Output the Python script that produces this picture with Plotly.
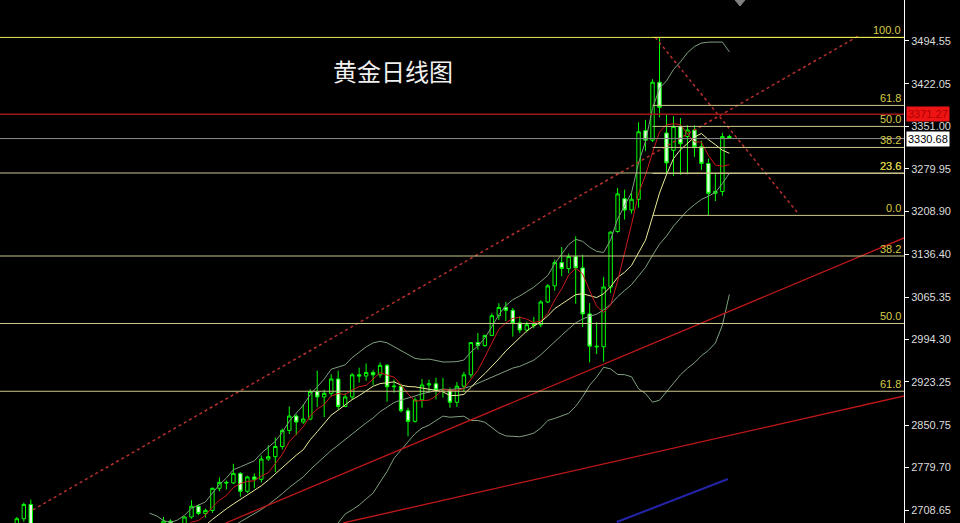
import plotly.graph_objects as go
import pandas as pd

# ---------------- data ----------------
dates = [
    "2024-12-10", "2024-12-11", "2024-12-12", "2024-12-13", "2024-12-16", "2024-12-17", "2024-12-18",
    "2024-12-19", "2024-12-20", "2024-12-23", "2024-12-24", "2024-12-26", "2024-12-27", "2024-12-30",
    "2024-12-31", "2025-01-02", "2025-01-03", "2025-01-06", "2025-01-07", "2025-01-08", "2025-01-09",
    "2025-01-10", "2025-01-13", "2025-01-14", "2025-01-15", "2025-01-16", "2025-01-17", "2025-01-20",
    "2025-01-21", "2025-01-22", "2025-01-23", "2025-01-24", "2025-01-27", "2025-01-28", "2025-01-29",
    "2025-01-30", "2025-01-31", "2025-02-03", "2025-02-04", "2025-02-05", "2025-02-06", "2025-02-07",
    "2025-02-10", "2025-02-11", "2025-02-12", "2025-02-13", "2025-02-14", "2025-02-17", "2025-02-18",
    "2025-02-19", "2025-02-20", "2025-02-21", "2025-02-24", "2025-02-25", "2025-02-26", "2025-02-27",
    "2025-02-28", "2025-03-03", "2025-03-04", "2025-03-05", "2025-03-06", "2025-03-07", "2025-03-10",
    "2025-03-11", "2025-03-12", "2025-03-13", "2025-03-14", "2025-03-17", "2025-03-18", "2025-03-19",
    "2025-03-20", "2025-03-21", "2025-03-24", "2025-03-25", "2025-03-26", "2025-03-27", "2025-03-28",
    "2025-03-31", "2025-04-01", "2025-04-02", "2025-04-03", "2025-04-04", "2025-04-07", "2025-04-08",
    "2025-04-09", "2025-04-10", "2025-04-11", "2025-04-14", "2025-04-15", "2025-04-16", "2025-04-17",
    "2025-04-21", "2025-04-22", "2025-04-23", "2025-04-24", "2025-04-25", "2025-04-28", "2025-04-29",
    "2025-04-30", "2025-05-01", "2025-05-02", "2025-05-05", "2025-05-06",
]

opens = [
    2660, 2694, 2718, 2681, 2648, 2652, 2646, 2587, 2594, 2622, 2612, 2617, 2634, 2621, 2606,
    2624, 2658, 2640, 2635, 2648, 2661, 2670, 2690, 2663, 2677, 2697, 2715, 2703, 2708, 2745,
    2755, 2754, 2770, 2740, 2764, 2760, 2794, 2798, 2815, 2842, 2866, 2856, 2861, 2907, 2898,
    2904, 2928, 2882, 2898, 2935, 2933, 2939, 2935, 2951, 2915, 2916, 2875, 2857, 2893, 2918,
    2920, 2910, 2910, 2889, 2916, 2935, 2989, 2984, 3001, 3034, 3048, 3043, 3022, 3010, 3019,
    3019, 3057, 3084, 3123, 3113, 3133, 3114, 3037, 2983, 2982, 3082, 3175, 3230, 3211, 3229,
    3344, 3328, 3425, 3340, 3311, 3351, 3334, 3345, 3317, 3289, 3239, 3242, 3334,
]
highs = [
    2697, 2721, 2726, 2686, 2664, 2655, 2664, 2633, 2632, 2630, 2622, 2639, 2637, 2624, 2627,
    2660, 2665, 2644, 2664, 2671, 2674, 2697, 2693, 2679, 2698, 2725, 2718, 2711, 2746, 2763,
    2758, 2786, 2772, 2766, 2770, 2800, 2817, 2830, 2845, 2882, 2869, 2886, 2911, 2942, 2910,
    2936, 2942, 2904, 2938, 2947, 2954, 2943, 2956, 2953, 2927, 2920, 2880, 2897, 2928, 2927,
    2930, 2930, 2914, 2923, 2940, 2990, 3005, 3002, 3038, 3055, 3057, 3047, 3033, 3024, 3032,
    3060, 3087, 3128, 3149, 3138, 3167, 3136, 3055, 3023, 3099, 3175, 3248, 3245, 3240, 3358,
    3362, 3430, 3500, 3372, 3368, 3365, 3353, 3353, 3327, 3297, 3272, 3340, 3337,
]
lows = [
    2656, 2689, 2677, 2643, 2644, 2631, 2583, 2584, 2582, 2603, 2607, 2614, 2616, 2597, 2600,
    2623, 2636, 2614, 2634, 2645, 2657, 2665, 2656, 2660, 2669, 2694, 2700, 2696, 2704, 2740,
    2743, 2752, 2731, 2737, 2745, 2755, 2791, 2772, 2810, 2836, 2834, 2853, 2859, 2881, 2864,
    2899, 2877, 2881, 2893, 2922, 2925, 2918, 2930, 2890, 2905, 2872, 2832, 2855, 2880, 2905,
    2894, 2897, 2880, 2881, 2906, 2930, 2977, 2982, 3000, 3027, 3025, 2999, 3005, 3006, 3013,
    3015, 3055, 3076, 3100, 3105, 3054, 3015, 2956, 2970, 2957, 3072, 3173, 3195, 3205, 3215,
    3310, 3325, 3366, 3270, 3268, 3270, 3271, 3300, 3278, 3202, 3226, 3235, 3330,
]
closes = [
    2694, 2718, 2681, 2648, 2652, 2646, 2587, 2594, 2622, 2612, 2617, 2634, 2621, 2606, 2624,
    2658, 2640, 2635, 2648, 2661, 2670, 2690, 2663, 2677, 2697, 2715, 2703, 2708, 2745, 2755,
    2754, 2770, 2740, 2764, 2760, 2794, 2798, 2815, 2842, 2866, 2856, 2861, 2907, 2898, 2904,
    2928, 2882, 2898, 2935, 2933, 2939, 2935, 2951, 2915, 2916, 2875, 2857, 2893, 2918, 2920,
    2910, 2910, 2889, 2916, 2935, 2989, 2984, 3001, 3034, 3048, 3043, 3022, 3010, 3019, 3018,
    3057, 3084, 3123, 3113, 3133, 3114, 3037, 2983, 2982, 3082, 3174, 3238, 3211, 3229, 3342,
    3328, 3425, 3383, 3290, 3351, 3322, 3345, 3317, 3289, 3239, 3242, 3334, 3331,
]

# right price axis (MT4 style irregular ticks)
tick_vals = [3494.55, 3422.05, 3351.00, 3279.95, 3208.90, 3136.40,
             3065.35, 2994.30, 2923.25, 2850.75, 2779.70, 2708.65]
tick_text = ["3494.55", "3422.05", "3351.00", "3279.95", "3208.90", "3136.40",
             "3065.35", "2994.30", "2923.25", "2850.75", "2779.70", "2708.65"]

# Fibonacci sets (the long set's 0.0 level coincides with the short set's 100.0)
fib_long_labels = ["", "23.6", "38.2", "50.0", "61.8"]
fib_long_prices = [3500.05, 3273.0, 3134.0, 3021.0, 2907.5]
fib_short_labels = ["100.0", "61.8", "50.0", "38.2", "23.6", "0.0"]
fib_short_prices = [3500.05, 3386.2, 3351.0, 3315.8, 3272.3, 3202.0]
fib_short_start = 91  # bar index where the short retracement begins

# horizontal price lines
resistance_price = 3371.27
bid_price = 3330.68

# trend lines: (bar index, price) end points
channel_top_i = [2.3, 120.7]
channel_top_p = [2709, 3504]
down_line_i = [91.4, 111.8]
down_line_p = [3500, 3206]
support1_i = [29.9, 127.0]
support1_p = [2686.9, 3164.2]
support2_i = [46.7, 127.0]
support2_p = [2686.9, 2899.6]
blue_i = [85.9, 101.8]
blue_p = [2688.6, 2760.6]

title_text = "黄金日线图"

# ---------------- figure ----------------
idx = list(range(len(dates)))
X_LEFT, X_RIGHT = -2.41, 127.0
Y_LOW, Y_HIGH = 2686.9, 3562.7

s = pd.Series(closes, dtype=float)
ma5 = s.rolling(5).mean()
ma10 = s.rolling(10).mean()
bb_mid = s.rolling(20).mean()
bb_sd = s.rolling(20).std(ddof=0)
bb_up = bb_mid + 2 * bb_sd
bb_lo = bb_mid - 2 * bb_sd

fig = go.Figure()

fig.add_trace(go.Candlestick(
    x=idx, open=opens, high=highs, low=lows, close=closes,
    increasing=dict(line=dict(color="#00ff00", width=1), fillcolor="#000000"),
    decreasing=dict(line=dict(color="#00ff00", width=1), fillcolor="#e4ffe0"),
    whiskerwidth=0, hoverinfo="skip", showlegend=False,
))

bb_col = "#7f9f7f"
for series in (bb_up, bb_mid, bb_lo):
    fig.add_trace(go.Scatter(x=idx, y=series, mode="lines",
                             line=dict(color=bb_col, width=1), hoverinfo="skip"))
fig.add_trace(go.Scatter(x=idx, y=ma10, mode="lines",
                         line=dict(color="#ecec9a", width=1), hoverinfo="skip"))
fig.add_trace(go.Scatter(x=idx, y=ma5, mode="lines",
                         line=dict(color="#cc1a1a", width=1), hoverinfo="skip"))

# trend lines
fig.add_trace(go.Scatter(x=channel_top_i, y=channel_top_p, mode="lines",
                         line=dict(color="#b83030", width=1.5, dash="3px,3px"), hoverinfo="skip"))
fig.add_trace(go.Scatter(x=down_line_i, y=down_line_p, mode="lines",
                         line=dict(color="#b83030", width=1.5, dash="3px,3px"), hoverinfo="skip"))
fig.add_trace(go.Scatter(x=support1_i, y=support1_p, mode="lines",
                         line=dict(color="#c01818", width=1.3), hoverinfo="skip"))
fig.add_trace(go.Scatter(x=support2_i, y=support2_p, mode="lines",
                         line=dict(color="#c01818", width=1.3), hoverinfo="skip"))
fig.add_trace(go.Scatter(x=blue_i, y=blue_p, mode="lines",
                         line=dict(color="#2424a8", width=2), hoverinfo="skip"))

shapes = []
annotations = []
fib_col = "#cdc88c"
lab_col = "#d8cc48"
lab_font = dict(family="Liberation Sans", size=11, color=lab_col)

for lab, p in zip(fib_long_labels, fib_long_prices):
    shapes.append(dict(type="line", xref="x", yref="y", x0=X_LEFT, x1=X_RIGHT, y0=p, y1=p,
                       line=dict(color="#eaea50" if p == max(fib_long_prices) else fib_col, width=1)))
    if lab:
        annotations.append(dict(xref="paper", yref="y", x=0.998, y=p, text=lab, showarrow=False,
                                xanchor="right", yanchor="bottom", font=lab_font, borderpad=0))
for lab, p in zip(fib_short_labels, fib_short_prices):
    shapes.append(dict(type="line", xref="x", yref="y", x0=fib_short_start, x1=X_RIGHT, y0=p, y1=p,
                       line=dict(color="#eaea50" if lab == "100.0" else fib_col, width=1)))
    annotations.append(dict(xref="paper", yref="y", x=0.998, y=p, text=lab, showarrow=False,
                            xanchor="right", yanchor="bottom", font=lab_font, borderpad=0))

shapes.append(dict(type="line", xref="x", yref="y", x0=X_LEFT, x1=X_RIGHT,
                   y0=resistance_price, y1=resistance_price, line=dict(color="#a01818", width=1.5)))
shapes.append(dict(type="line", xref="x", yref="y", x0=X_LEFT, x1=X_RIGHT,
                   y0=bid_price, y1=bid_price, line=dict(color="#8c8c8c", width=1)))

# chart-shift marker at the top
shapes.append(dict(type="path", xref="paper", yref="paper",
                   path="M 0.8131 1 L 0.8241 1 L 0.8186 0.9885 Z",
                   fillcolor="#808080", line=dict(color="#808080", width=1)))

# axis price labels
annotations.append(dict(xref="paper", yref="y", x=1.002, y=resistance_price,
                        text=f"{resistance_price:.2f}", showarrow=False, xanchor="left",
                        yanchor="middle", bgcolor="#ee1414", borderpad=1,
                        font=dict(family="Liberation Sans", size=11, color="#b00000")))
annotations.append(dict(xref="paper", yref="y", x=1.002, y=bid_price,
                        text=f"{bid_price:.2f}", showarrow=False, xanchor="left",
                        yanchor="middle", bgcolor="#ffffff", borderpad=1,
                        font=dict(family="Liberation Sans", size=11, color="#000000")))

annotations.append(dict(xref="paper", yref="paper", x=0.4347, y=0.866, text=title_text,
                        showarrow=False, xanchor="center", yanchor="middle",
                        font=dict(family="Noto Sans CJK SC", size=24, color="#f0f0f0")))

fig.update_layout(
    width=960, height=523,
    margin=dict(l=0, r=56, t=0, b=0),
    paper_bgcolor="#000000", plot_bgcolor="#000000",
    showlegend=False,
    shapes=shapes, annotations=annotations,
    xaxis=dict(range=[X_LEFT, X_RIGHT], visible=False, showgrid=False, zeroline=False,
               rangeslider=dict(visible=False), fixedrange=True),
    yaxis=dict(range=[Y_LOW, Y_HIGH], side="right", showgrid=False, zeroline=False,
               showline=True, linecolor="#ffffff", linewidth=1, mirror=False,
               ticks="outside", ticklen=4, tickcolor="#ffffff",
               tickvals=tick_vals, ticktext=tick_text,
               tickfont=dict(family="Liberation Sans", size=11, color="#dcdcdc"),
               fixedrange=True),
)

fig.write_html("out.html", config={"displayModeBar": False},
               post_script="document.body.style.margin='0px';document.body.style.overflow='hidden';")
